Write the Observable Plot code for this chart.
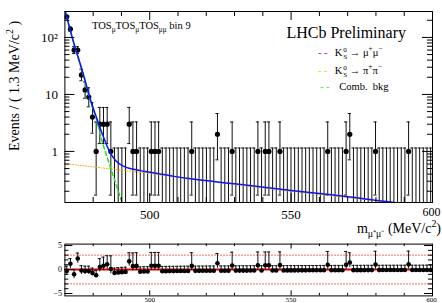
<!DOCTYPE html>
<html><head><meta charset="utf-8">
<script src="https://cdn.jsdelivr.net/npm/d3@7"></script>
<script src="https://cdn.jsdelivr.net/npm/@observablehq/plot@0.6"></script>
<style>
html,body{margin:0;padding:0;background:#fff;}
#wrap{position:relative;width:442px;height:303px;overflow:hidden;font-family:"Liberation Serif","Times New Roman",serif;color:#000;}
#wrap > svg{position:absolute;left:0;}
.ann{position:absolute;white-space:nowrap;line-height:1;}
.ks{display:inline-block;vertical-align:-0.4em;font-size:68%;line-height:0.95;margin-left:1px;text-align:left;}
.ks span{display:block;}
sub,sup{font-size:70%;line-height:0;}
.dash{display:inline-block;width:14px;}
</style></head>
<body><div id="wrap"></div>
<script>
// ---- data ----
const massMin = 470, massMax = 600, binWidth = 1.3;
const counts = [
 230,140,60,60,22,12,9,4,1,3,
 3,3,1,0,0,0,0,3,1,1,
 0,0,0,1,1,1,0,0,0,0,
 0,0,0,0,1,0,0,0,0,0,
 0,2,0,0,0,1,0,0,0,0,
 0,0,1,0,1,1,0,0,1,0,
 0,0,0,0,0,0,0,0,0,0,
 0,1,0,0,0,0,1,2,0,0,
 0,0,0,0,1,0,0,0,0,0,
 0,0,0,1,0,0,0,0,0,0];
const pulls = [
 -0.3,1.2,-1.0,2.3,-0.2,-0.3,-0.3,-0.7,-1.2,0.5,
 0.8,1.1,0.1,-0.7,-0.6,-0.55,-0.5,1.7,0.7,0.75,
 -0.45,-0.42,-0.4,0.8,0.8,0.8,-0.35,-0.35,-0.33,-0.33,
 -0.32,-0.31,-0.3,-0.3,0.75,-0.28,-0.28,-0.27,-0.27,-0.26,
 -0.26,1.3,-0.25,-0.25,-0.24,0.85,-0.23,-0.23,-0.22,-0.22,
 -0.21,-0.21,0.9,-0.2,0.9,0.9,-0.2,-0.19,0.92,-0.19,
 -0.18,-0.18,-0.18,-0.17,-0.17,-0.17,-0.16,-0.16,-0.16,-0.15,
 -0.15,1.0,-0.15,-0.14,-0.14,-0.14,1.0,1.45,-0.13,-0.13,
 -0.13,-0.12,-0.12,-0.12,1.05,-0.12,-0.11,-0.11,-0.11,-0.11,
 -0.1,-0.1,-0.1,1.08,-0.1,-0.1,-0.1,-0.09,-0.09,-0.09];
// fit curves (mass, events)
const totalFitMass  = [470,473,476.6,479.1,480.9,483.2,485.6,487.9,490.9,496.8,502.7,508.6,514.5,530,550,564.2,587.2,600];
const totalFitValue = [300,85,22,7.9,4.3,2.04,1.04,0.69,0.545,0.46,0.41,0.365,0.33,0.27,0.207,0.174,0.126,0.107];
const peakFitMass   = [470,473,476.6,479.1,481,483.1,485.5,487.8,490.2,491.5];
const peakFitValue  = [299,84,21,7.3,3.9,1.55,0.65,0.29,0.128,0.08];
const combFitMass   = [470,485,500,525,550,575,600];
const combFitValue  = [0.61,0.5,0.41,0.285,0.2,0.145,0.103];
const yMajorTicks = [1,10,100];
const yTickLabels = ["1","10","10²"];
const xLabelTicks = [500,550];
const xLastTick = 600;
const pullLabelTicks = [5,0,-5];
const pullTickLabels = ["5","0","−5"];
const pullRefLines = [-3,3];

// ---- derived ----
const zeroHi = 1.148;
function poisLo(n){ if(n===0) return 0; const s=Math.sqrt(n); return n*Math.pow(1-1/(9*n)-1/(3*s),3); }
function poisHi(n){ if(n===0) return zeroHi; const k=n+1, s=Math.sqrt(k); return k*Math.pow(1-1/(9*k)+1/(3*s),3); }
const bins = counts.map((n,i)=>{
  const b = {m: massMin+binWidth*(i+0.5), n, lo: poisLo(n), hi: poisHi(n), pull: pulls[i]};
  const el = b.n-b.lo, eh = b.hi-b.n;
  const norm = b.pull>=0 ? (el>0?el:eh) : eh;
  b.pLo = b.pull - el/norm; b.pHi = b.pull + eh/norm;
  return b;
});
const zip = (a,b)=>a.map((v,i)=>({x:v,y:b[i]}));
const totalFit = zip(totalFitMass,totalFitValue);
const peakFit = zip(peakFitMass,peakFitValue);
const combFit = zip(combFitMass,combFitValue);

const FONT = "Liberation Serif, Times New Roman, serif";
const W = 442, ML = 64.4, MR = 10;
const fw = W-ML-MR;
// main panel
const H1 = 240, MT = 11, MB = 38, fh = H1-MT-MB;
const yMin = 0.127, yMax = 285;
const yMinor = [0.2,0.3,0.4,0.5,0.6,0.7,0.8,0.9,2,3,4,5,6,7,8,9,20,30,40,50,60,70,80,90,200];
const xMinor = d3.range(480,600,10).filter(v=>v%50!==0);
const xMajor = [500,550];
const capW = 0.55;

const main = Plot.plot({
  width: W, height: H1, marginLeft: ML, marginRight: MR, marginTop: MT, marginBottom: MB,
  style: {background:"transparent", fontFamily: FONT, color:"#000"},
  x: {domain:[massMin,massMax], axis:null},
  y: {type:"log", domain:[yMin,yMax], axis:null},
  marks: [
    Plot.ruleX(bins, {x:"m", y1: d=>Math.max(d.lo,1e-3), y2:"hi", stroke:"#111", strokeWidth:1, clip:true}),
    Plot.ruleY(bins, {y:"hi", x1: d=>d.m-capW, x2: d=>d.m+capW, stroke:"#111", strokeWidth:1, clip:true}),
    Plot.ruleY(bins.filter(d=>d.n>0), {y:"lo", x1: d=>d.m-capW, x2: d=>d.m+capW, stroke:"#111", strokeWidth:1, clip:true}),
    Plot.dot(bins.filter(d=>d.n>0), {x:"m", y:"n", r:2.6, fill:"#000", stroke:null, clip:true}),
    Plot.line(combFit, {x:"x", y:"y", stroke:"#f2a900", strokeWidth:1, strokeDasharray:"1,1.6", curve:"monotone-x", clip:true}),
    Plot.line(peakFit, {x:"x", y:"y", stroke:"#22dd22", strokeWidth:1.5, strokeDasharray:"4,3", curve:"monotone-x", clip:true}),
    Plot.line(totalFit, {x:"x", y:"y", stroke:"#0a14ff", strokeWidth:1.5, curve:"monotone-x", clip:true}),
    // ticks (inside the frame)
    Plot.tickX(xMajor, {x:d=>d, insetTop: fh-9, stroke:"#000"}),
    Plot.tickX(xMinor, {x:d=>d, insetTop: fh-5, stroke:"#000"}),
    Plot.tickX(xMajor, {x:d=>d, insetBottom: fh-9, stroke:"#000"}),
    Plot.tickX(xMinor, {x:d=>d, insetBottom: fh-5, stroke:"#000"}),
    Plot.tickY(yMajorTicks, {y:d=>d, insetRight: fw-10, stroke:"#000"}),
    Plot.tickY(yMinor, {y:d=>d, insetRight: fw-5, stroke:"#000"}),
    Plot.tickY(yMajorTicks, {y:d=>d, insetLeft: fw-10, stroke:"#000"}),
    Plot.tickY(yMinor, {y:d=>d, insetLeft: fw-5, stroke:"#000"}),
    Plot.frame({stroke:"#000", strokeWidth:1}),
    // tick labels
    Plot.text(yMajorTicks, {x: massMin, y: d=>d, text: (d,i)=>yTickLabels[i], textAnchor:"end", dx:-7, fontSize:13}),
    Plot.text(xLabelTicks, {x: d=>d, y: yMin, text: d=>String(d), dy: 12, fontSize:13}),
    Plot.text([xLastTick], {x: d=>d, y: yMin, text: d=>String(d), dy: 10, dx: -1, fontSize:12})
  ]
});
main.style.top = "0px";

// pull panel
const top2 = 236, H2 = 67, MT2 = 7.6, MB2 = 7.6, fh2 = H2-MT2-MB2;
const pMin = -5.5, pMax = 5.3;
const pMinor = d3.range(-5,6,1).filter(v=>v%5!==0);
const pull = Plot.plot({
  width: W, height: H2, marginLeft: ML, marginRight: MR, marginTop: MT2, marginBottom: MB2,
  style: {background:"transparent", fontFamily: FONT, color:"#000"},
  x: {domain:[massMin,massMax], axis:null},
  y: {domain:[pMin,pMax], axis:null},
  marks: [
    Plot.ruleY(pullRefLines, {y:d=>d, stroke:"#ff0000", strokeWidth:1, strokeDasharray:"1.2,1.8"}),
    Plot.ruleY([0], {y:d=>d, stroke:"#e00000", strokeWidth:2}),
    Plot.ruleX(bins, {x:"m", y1:"pLo", y2:"pHi", stroke:"#111", strokeWidth:1, clip:true}),
    Plot.ruleY(bins, {y:"pHi", x1: d=>d.m-capW, x2: d=>d.m+capW, stroke:"#111", strokeWidth:1, clip:true}),
    Plot.dot(bins, {x:"m", y:"pull", r:2.3, fill:"#000", stroke:null, clip:true}),
    Plot.tickX(xMajor, {x:d=>d, insetTop: fh2-5, stroke:"#000"}),
    Plot.tickX(xMinor, {x:d=>d, insetTop: fh2-2.5, stroke:"#000"}),
    Plot.tickX(xMajor, {x:d=>d, insetBottom: fh2-5, stroke:"#000"}),
    Plot.tickX(xMinor, {x:d=>d, insetBottom: fh2-2.5, stroke:"#000"}),
    Plot.tickY(pullLabelTicks, {y:d=>d, insetRight: fw-8, stroke:"#000"}),
    Plot.tickY(pMinor, {y:d=>d, insetRight: fw-4, stroke:"#000"}),
    Plot.tickY(pullLabelTicks, {y:d=>d, insetLeft: fw-8, stroke:"#000"}),
    Plot.tickY(pMinor, {y:d=>d, insetLeft: fw-4, stroke:"#000"}),
    Plot.frame({stroke:"#000", strokeWidth:1}),
    Plot.text(pullLabelTicks, {x: massMin, y: d=>d, text:(d,i)=>pullTickLabels[i], textAnchor:"end", dx:-3, fontSize:8}),
    Plot.text(xMajor, {x:d=>d, y: pMin, text:d=>String(d), dy: 3.8, fontSize:7}),
    Plot.text([xLastTick], {x:d=>d, y: pMin, text:d=>String(d), dy: 3.8, dx:-1, fontSize:7})
  ]
});
pull.style.top = top2+"px";

const wrap = document.getElementById("wrap");
wrap.appendChild(main);
wrap.appendChild(pull);

// annotations
const ann = [
  {html:'TOS<sub>μ</sub>TOS<sub>μ</sub>TOS<sub>μμ</sub> bin 9', style:'left:92px;top:21px;font-size:10.5px'},
  {html:'LHCb Preliminary', style:'right:36px;top:25px;font-size:16px'},
  {html:'<span class="dash" style="color:#8b1a8b">- -</span> K<span class="ks"><span>0</span><span>S</span></span> → μ<sup>+</sup>μ<sup>−</sup>', style:'left:318px;top:47px;font-size:10.5px'},
  {html:'<span class="dash" style="color:#e6d800">- -</span> K<span class="ks"><span>0</span><span>S</span></span> → π<sup>+</sup>π<sup>−</sup>', style:'left:318px;top:65px;font-size:10.5px'},
  {html:'<span class="dash" style="color:#33ee33">- -</span>&nbsp; Comb.&nbsp; bkg', style:'left:320px;top:82px;font-size:10.5px'},
  {html:'m<sub>μ⁺μ⁻</sub> (MeV/c<sup>2</sup>)', style:'right:1px;top:222px;font-size:14px'},
  {html:'Events / ( 1.3 MeV/c<sup>2</sup> )', style:'left:15px;top:86px;font-size:14px;transform:translate(-50%,-50%) rotate(-90deg)'}
];
for (const a of ann){
  const d = document.createElement("div");
  d.className = "ann"; d.setAttribute("style", a.style); d.innerHTML = a.html;
  wrap.appendChild(d);
}
</script></body></html>
